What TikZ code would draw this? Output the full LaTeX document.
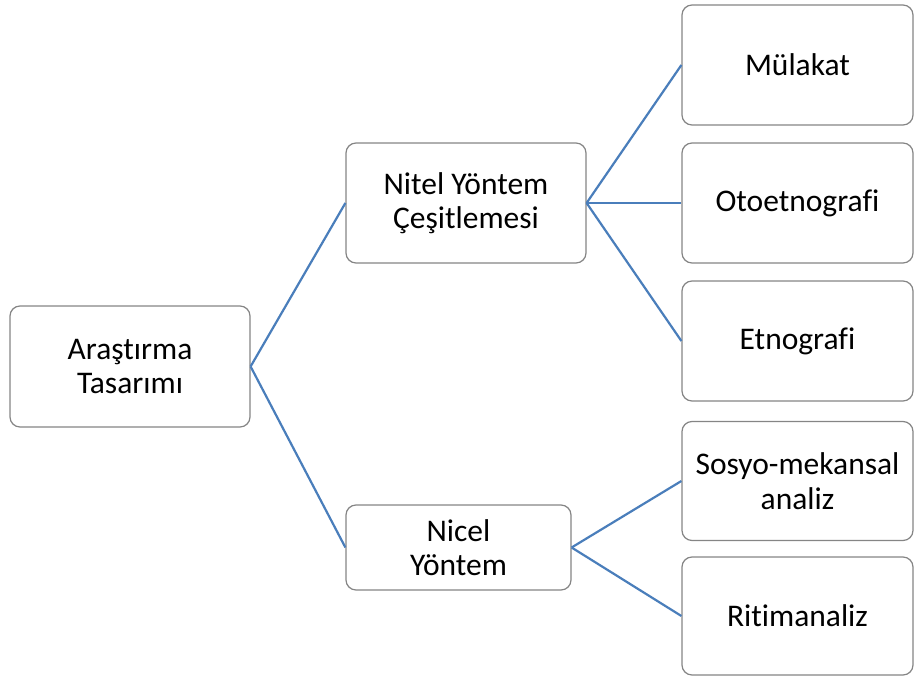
\documentclass[tikz,border=0pt]{standalone}
\usepackage{fontspec}
\setmainfont[Ligatures=NoCommon]{Carlito}
\begin{document}
\begin{tikzpicture}[x=1pt,y=-1pt,
  box/.style={draw=boxgray,line width=1.2pt,rounded corners=10pt,fill=white,
    align=center,inner sep=0pt,font=\fontsize{31.5}{34.5}\selectfont},
  link/.style={draw=linkblue,line width=2.2pt}]
\definecolor{boxgray}{HTML}{858585}
\definecolor{linkblue}{HTML}{4A7EBB}
\useasboundingbox (0,0) rectangle (914,677);
\node[box,minimum width=240pt,minimum height=121pt] (A) at (130,366.5) {Araştırma\\Tasarımı};
\node[box,minimum width=240pt,minimum height=120pt] (N) at (466,203) {Nitel Yöntem\\Çeşitlemesi};
\node[box,minimum width=225pt,minimum height=85pt] (C) at (458.5,547.5) {Nicel\\Yöntem};
\node[box,minimum width=231pt,minimum height=120pt] (M) at (797.5,65) {Mülakat};
\node[box,minimum width=231pt,minimum height=120pt] (O) at (797.5,203) {Otoetnografi};
\node[box,minimum width=231pt,minimum height=120pt] (E) at (797.5,341) {Etnografi};
\node[box,minimum width=231pt,minimum height=119pt] (S) at (797.5,481) {Sosyo-mekansal\\analiz};
\node[box,minimum width=231pt,minimum height=118pt] (R) at (797.5,616) {Ritimanaliz};
\draw[link] (A.east) -- (N.west);
\draw[link] (A.east) -- (C.west);
\draw[link] (N.east) -- (M.west);
\draw[link] (N.east) -- (O.west);
\draw[link] (N.east) -- (E.west);
\draw[link] (C.east) -- (S.west);
\draw[link] (C.east) -- (R.west);
\end{tikzpicture}
\end{document}
